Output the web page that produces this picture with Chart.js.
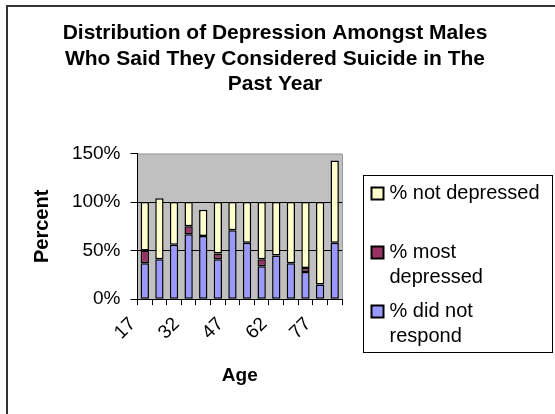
<!DOCTYPE html>
<html>
<head>
<meta charset="utf-8">
<script src="https://cdn.jsdelivr.net/npm/chart.js@4.4.1/dist/chart.umd.min.js"></script>
<style>
  html, body { margin: 0; padding: 0; background: #fff; }
  #wrap { width: 555px; height: 414px; }
</style>
</head>
<body>
<div id="wrap"><canvas id="myChart" width="555" height="414"></canvas></div>
<script>
// Altersgruppen (x-Achse) und Werte in Prozent
const ages = ['17', '22', '27', '32', '37', '42', '47', '52', '57', '62', '67', '72', '77', '82'];
const didNotRespond = [37, 41, 56, 67, 65, 41, 71, 58, 34, 45, 37, 28, 15, 58];
const mostDepressed = [13, 0, 0, 8, 0, 6, 0, 0, 7, 0, 0, 4, 0, 0];
const notDepressed = [50, 63, 44, 25, 27, 53, 29, 42, 59, 55, 63, 68, 85, 85];
const yTicks = [0, 50, 100, 150];

const FONT = "'Liberation Sans', Arial, sans-serif";

// Hintergrund, Rahmen und graue Plotfläche
const backgroundPlugin = {
    id: 'background',
    beforeDraw(chart) {
        const ctx = chart.ctx;
        const a = chart.chartArea;
        ctx.save();
        ctx.fillStyle = '#fff';
        ctx.fillRect(0, 0, chart.width, chart.height);
        ctx.fillStyle = '#333';
        ctx.fillRect(6, 5, 2, chart.height);
        ctx.fillRect(6, 5, chart.width, 2);
        ctx.fillStyle = '#c0c0c0';
        ctx.fillRect(a.left, a.top, a.right - a.left, a.bottom - a.top);
        ctx.strokeStyle = '#999';
        ctx.lineWidth = 1;
        ctx.beginPath();
        ctx.moveTo(a.left, a.top + 0.5);
        ctx.lineTo(a.right + 0.5, a.top + 0.5);
        ctx.lineTo(a.right + 0.5, a.bottom);
        ctx.stroke();
        ctx.restore();
    }
};

// Eigene Legende im Kasten rechts (Text wird umgebrochen)
function wrapText(ctx, text, maxWidth) {
    const words = text.split(' ');
    const lines = [];
    let line = '';
    words.forEach(function(w) {
        const test = line ? line + ' ' + w : w;
        if (ctx.measureText(test).width > maxWidth && line) {
            lines.push(line);
            line = w;
        } else {
            line = test;
        }
    });
    lines.push(line);
    return lines;
}

const legendPlugin = {
    id: 'boxLegend',
    afterDraw(chart) {
        const ctx = chart.ctx;
        const a = chart.chartArea;
        const boxX = a.right + 21.5;
        const boxY = 175.5;
        const boxW = 189;
        const boxH = 177;
        ctx.save();
        ctx.strokeStyle = '#000';
        ctx.lineWidth = 1;
        ctx.strokeRect(boxX, boxY, boxW, boxH);
        ctx.font = '20px ' + FONT;
        ctx.textBaseline = 'middle';
        ctx.fillStyle = '#000';
        const sets = chart.data.datasets.slice().reverse();
        sets.forEach(function(ds, i) {
            const y = boxY + 18 + i * 59;
            ctx.fillStyle = ds.backgroundColor;
            ctx.fillRect(boxX + 8, y - 6, 12, 12);
            ctx.strokeStyle = '#000';
            ctx.lineWidth = 2;
            ctx.strokeRect(boxX + 8, y - 6, 12, 12);
            ctx.fillStyle = '#000';
            const lines = wrapText(ctx, ds.label, 155);
            lines.forEach(function(l, j) {
                ctx.fillText(l, boxX + 26, y + j * 25);
            });
        });
        ctx.restore();
    }
};

const config = {
    type: 'bar',
    data: {
        labels: ages,
        datasets: [{
            label: '% did not respond',
            data: didNotRespond,
            backgroundColor: '#9999ff'
        }, {
            label: '% most depressed',
            data: mostDepressed,
            backgroundColor: '#993366'
        }, {
            label: '% not depressed',
            data: notDepressed,
            backgroundColor: '#ffffcc'
        }]
    },
    options: {
        responsive: false,
        animation: false,
        devicePixelRatio: 1,
        layout: { padding: { left: 0, right: 5, top: 0, bottom: 27 } },
        datasets: {
            bar: {
                borderColor: '#000',
                borderWidth: 1.5,
                borderSkipped: false,
                categoryPercentage: 1,
                barPercentage: 0.57
            }
        },
        plugins: {
            legend: { display: false },
            tooltip: { enabled: false },
            title: {
                display: true,
                text: ['Distribution of Depression Amongst Males', 'Who Said They Considered Suicide in The', 'Past Year'],
                color: '#000',
                font: { family: FONT, size: 21, weight: 'bold', lineHeight: 1.2 },
                padding: { top: 21, bottom: 57 }
            }
        },
        scales: {
            x: {
                stacked: true,
                grid: { drawOnChartArea: false, color: '#000', tickLength: 6, offset: true },
                border: { color: '#000' },
                ticks: {
                    autoSkip: false,
                    maxRotation: 45,
                    minRotation: 45,
                    color: '#000',
                    padding: 8,
                    labelOffset: -12,
                    font: { family: FONT, size: 19 },
                    callback: function(v, i) { return i % 3 === 0 ? ages[i] : ''; }
                },
                title: {
                    display: true,
                    text: 'Age',
                    color: '#000',
                    font: { family: FONT, size: 19, weight: 'bold' },
                    padding: { top: 12, bottom: 0 }
                }
            },
            y: {
                stacked: true,
                min: 0,
                max: 150,
                afterBuildTicks: function(scale) { scale.ticks = yTicks.map(v => ({ value: v })); },
                grid: {
                    color: ctx => (ctx.tick && (ctx.tick.value === 50 || ctx.tick.value === 100)) ? '#000' : 'rgba(0,0,0,0)',
                    tickColor: '#000',
                    tickLength: 7
                },
                border: { color: '#000' },
                ticks: {
                    color: '#000',
                    padding: 10,
                    font: { family: FONT, size: 19 },
                    callback: v => v + '%'
                },
                title: {
                    display: true,
                    text: 'Percent',
                    color: '#000',
                    font: { family: FONT, size: 20, weight: 'bold' },
                    padding: { top: 30, bottom: 8 }
                }
            },
            // Platzhalter rechts für den Legendenkasten
            legendSpace: {
                type: 'linear',
                position: 'right',
                display: true,
                grid: { display: false, drawTicks: false },
                border: { display: false },
                ticks: { display: false },
                afterFit: function(scale) { scale.width = 208; }
            }
        }
    },
    plugins: [backgroundPlugin, legendPlugin]
};

const ctx = document.getElementById('myChart').getContext('2d');
const myChart = new Chart(ctx, config);
</script>
</body>
</html>
